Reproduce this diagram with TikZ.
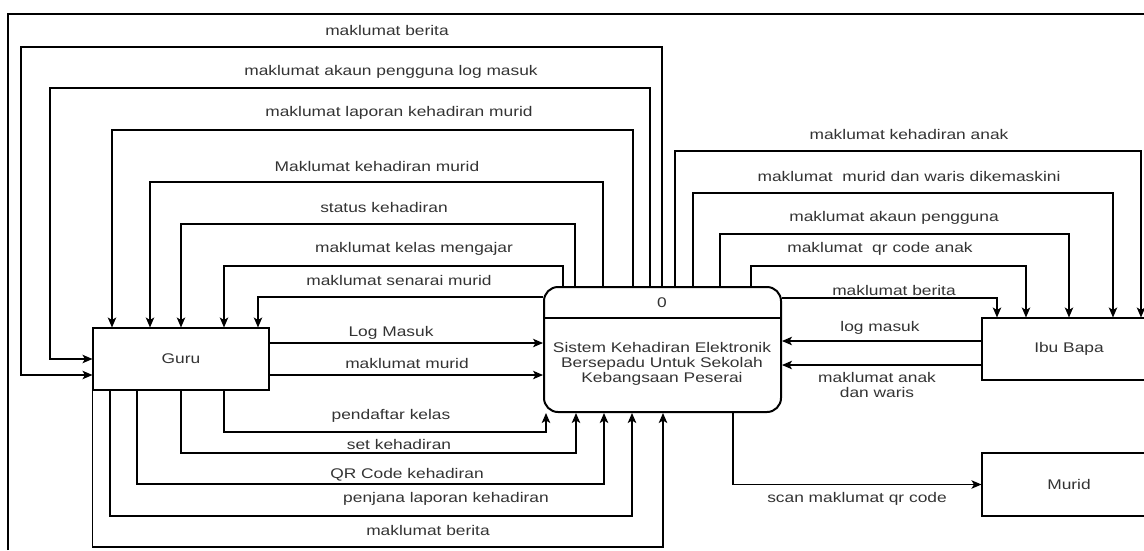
\documentclass[tikz,border=0pt]{standalone}
\usepackage{fontspec}
\setmainfont{Liberation Sans}[FakeStretch=1.24]
\usetikzlibrary{arrows.meta}

\begin{document}
\begin{tikzpicture}[
    x=1pt, y=-1pt,
    every node/.style={font=\fontsize{14}{15}\selectfont, text=black!80},
    entity/.style={draw, line width=1.1pt, minimum width=176pt, minimum height=62pt, inner sep=0pt},
    proc/.style={draw, line width=2pt, rounded corners=14pt, minimum width=237pt, minimum height=125pt, inner sep=0pt},
    flow/.style={line width=1.1pt, -{Stealth[length=10pt, width=8.5pt, inset=2.5pt]}},
    lbl/.style={inner sep=0pt, align=center},
  ]
  \useasboundingbox (0,0) rectangle (1144,550);
  \draw[line width=1.6pt] (8,550) -- (8,14) -- (1144,14);

  \node[entity] (guru) at (181,359) {Guru};
  \node[proc] (sys) at (662.5,349.5) {};
  \node (sysid) at (662,303) {0};
  \draw[line width=2pt] (sys.west |- 0,318) -- (sys.east |- 0,318);
  \node[lbl] (systxt) at (662,364) {Sistem Kehadiran Elektronik\\Bersepadu Untuk Sekolah\\Kebangsaan Peserai};
  \node[entity, minimum width=174pt] (ibu) at (1069,349) {Ibu Bapa};
  \node[entity, minimum width=174pt, minimum height=63pt] (murid) at (1069,484.5) {Murid};

  \draw[flow] (sys.north -| 662,0) |- (21,47) |- (guru.west |- 0,375);
  \draw[flow] (sys.north -| 650,0) |- (50,88) |- (guru.west |- 0,359);
  \draw[flow] (sys.north -| 633,0) |- (112,130) -- (guru.north -| 112,0);
  \draw[flow] (sys.north -| 603,0) |- (150,182) -- (guru.north -| 150,0);
  \draw[flow] (sys.north -| 575,0) |- (181,224) -- (guru.north -| 181,0);
  \draw[flow] (sys.north -| 563,0) |- (224,266) -- (guru.north -| 224,0);
  \draw[flow] (sys.west |- 0,297) -| (guru.north -| 258,0);
  \node[lbl] (lBerita) at (387,30) {maklumat berita};
  \node[lbl] (lAkaunLog) at (391,72) {maklumat akaun pengguna log masuk};
  \node[lbl] (lLaporan) at (399,113) {maklumat laporan kehadiran murid};
  \node[lbl] (lKehadiranMurid) at (377,166) {Maklumat kehadiran murid};
  \node[lbl] (lStatus) at (384,207) {status kehadiran};
  \node[lbl] (lKelas) at (414,249) {maklumat kelas mengajar};
  \node[lbl] (lSenarai) at (399,280) {maklumat senarai murid};

  \draw[flow] (guru.east |- 0,343) -- (sys.west |- 0,343);
  \draw[flow] (guru.east |- 0,375) -- (sys.west |- 0,375);
  \node[lbl] (lLog) at (391,333) {Log Masuk};
  \node[lbl] (lMurid) at (407,363) {maklumat murid};

  \draw[flow] (guru.south -| 224,0) |- (546,432) -- (sys.south -| 546,0);
  \draw[flow] (guru.south -| 181,0) |- (576,453) -- (sys.south -| 576,0);
  \draw[flow] (guru.south -| 137,0) |- (604,484) -- (sys.south -| 604,0);
  \draw[flow] (guru.south -| 110,0) |- (632,516) -- (sys.south -| 632,0);
  \draw[flow] (guru.south west) |- (663,547) -- (sys.south -| 663,0);
  \node[lbl] (lDaftar) at (391,416) {pendaftar kelas};
  \node[lbl] (lSet) at (399,444) {set kehadiran};
  \node[lbl] (lQR) at (407,475) {QR Code kehadiran};
  \node[lbl] (lPenjana) at (446,499) {penjana laporan kehadiran};
  \node[lbl] (lBerita2) at (428,530) {maklumat berita};

  \draw[flow] (sys.north -| 675,0) |- (1141,151) -- (ibu.north -| 1141,0);
  \draw[flow] (sys.north -| 693,0) |- (1113,193) -- (ibu.north -| 1113,0);
  \draw[flow] (sys.north -| 720,0) |- (1069,234) -- (ibu.north -| 1069,0);
  \draw[flow] (sys.north -| 751,0) |- (1026,266) -- (ibu.north -| 1026,0);
  \draw[flow] (sys.east |- 0,298) -| (ibu.north -| 997,0);
  \draw[flow] (ibu.west |- 0,341) -- (sys.east |- 0,341);
  \draw[flow] (ibu.west |- 0,365) -- (sys.east |- 0,365);
  \draw[flow] (sys.south -| 733,0) |- (murid.west);
  \node[lbl] (lAnak) at (909,134) {maklumat kehadiran anak};
  \node[lbl] (lWaris) at (909,176) {maklumat\ \ murid dan waris dikemaskini};
  \node[lbl] (lAkaun) at (894,218) {maklumat akaun pengguna};
  \node[lbl] (lQRAnak) at (880,249) {maklumat\ \ qr code anak};
  \node[lbl] (lBerita3) at (894,290) {maklumat berita};
  \node[lbl] (lLogIbu) at (880,328) {log masuk};
  \node[lbl] (lAnakWaris) at (877,385) {maklumat anak\\dan waris};
  \node[lbl] (lScan) at (857,499) {scan maklumat qr code};
\end{tikzpicture}
\end{document}
